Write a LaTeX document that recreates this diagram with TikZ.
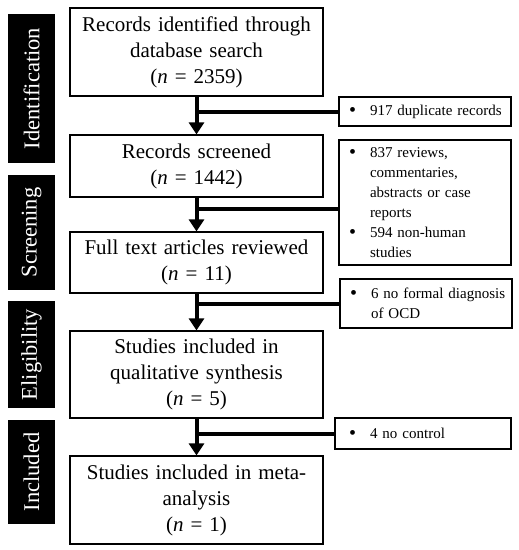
\documentclass[tikz,border=0pt]{standalone}
\usepackage{fontspec}
\setmainfont{Liberation Serif}
\usepackage{tikz}
\usetikzlibrary{arrows.meta, positioning}
\newcommand{\dotmark}{\raisebox{-1.2pt}{\fontsize{20}{20}\selectfont\textbullet}}
\newcommand{\bul}[1]{\hspace*{10pt}\makebox[21pt][l]{\dotmark}\mbox{#1}}
\newcommand{\cont}[1]{\hspace*{31pt}\mbox{#1}}

\begin{document}
\begin{tikzpicture}[x=1pt, y=-1pt,
  stage/.style={rectangle, draw=black, line width=1.2pt, fill=white, minimum width=253pt,
    text width=245pt, align=center, font=\fontsize{21}{26}\selectfont},
  side/.style={rectangle, draw=black, line width=1.2pt, fill=white, minimum width=172pt,
    inner xsep=0pt, text width=172pt, align=left, font=\fontsize{15}{20}\selectfont},
  band/.style={rectangle, fill=black, text=white, rotate=90, minimum height=47pt,
    font=\fontsize{22.5}{24}\selectfont},
  flow/.style={line width=4pt, -{Triangle[width=15pt,length=12pt]}},
  link/.style={line width=4pt}
]
\useasboundingbox (0,0) rectangle (519,550);

% phase labels
\node[band, minimum width=149pt] (idn) at (31.5, 88.5) {Identification};
\node[band, minimum width=115pt] (scr) at (31.5, 232.5) {Screening};
\node[band, minimum width=107pt] (elg) at (31.5, 354.5) {Eligibility};
\node[band, minimum width=104pt] (inc) at (31.5, 472) {Included};

% main flow
\node[stage, minimum height=88pt] (rec) at (196.5, 52) {Records identified through\\ database search\\ (\textit{n} = 2359)};
\node[stage, minimum height=62pt] (scn) at (196.5, 166) {Records screened\\ (\textit{n} = 1442)};
\node[stage, minimum height=61pt] (full) at (196.5, 262.5) {Full text articles reviewed\\ (\textit{n} = 11)};
\node[stage, minimum height=87pt] (qual) at (196.5, 374.5) {Studies included in\\ qualitative synthesis\\ (\textit{n} = 5)};
\node[stage, minimum height=88pt] (meta) at (196.5, 500) {Studies included in meta-\\ analysis\\ (\textit{n} = 1)};

% exclusions
\node[side, minimum height=29pt] (dup) at (425, 111.5) {\bul{917 duplicate records}};
\node[side, minimum height=125pt] (rev) at (425, 202.5) {\bul{837 reviews,}\\ \cont{commentaries,}\\ \cont{abstracts or case}\\ \cont{reports}\\ \bul{594 non-human}\\ \cont{studies}};
\node[side, minimum height=49pt] (ocd) at (426, 303.5) {\bul{6 no formal diagnosis}\\ \cont{of OCD}};
\node[side, minimum height=31pt, minimum width=176pt, text width=176pt] (ctl) at (423, 433.5) {\hspace*{14pt}\makebox[21pt][l]{\dotmark}4 no control};

\coordinate (j2) at (196.5, 209);

\draw[flow] (rec) -- (scn);
\draw[flow] (scn) -- (full);
\draw[flow] (full) -- (qual);
\draw[flow] (qual) -- (meta);

\draw[link] (dup.west) -- (dup.west -| rec.south);
\draw[link] (j2) -- (j2 -| rev.west);
\draw[link] (ocd.west) -- (ocd.west -| full.south);
\draw[link] (ctl.west) -- (ctl.west -| qual.south);
\end{tikzpicture}
\end{document}
